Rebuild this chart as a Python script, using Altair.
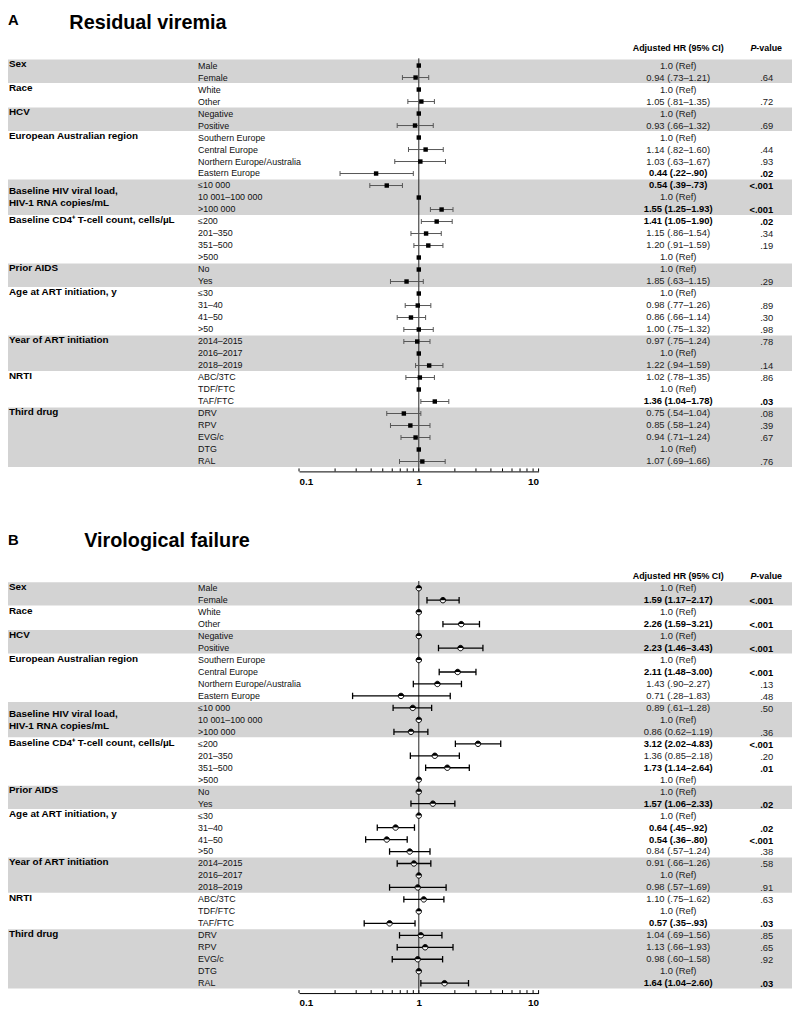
import altair as alt
import pandas as pd

FONT = "Liberation Sans"

# ---------------- shared row structure ----------------
sub_labels = ["Male", "Female", "White", "Other", "Negative", "Positive",
              "Southern Europe", "Central Europe", "Northern Europe/Australia", "Eastern Europe",
              "≤10 000", "10 001–100 000", ">100 000",
              "≤200", "201–350", "351–500", ">500",
              "No", "Yes",
              "≤30", "31–40", "41–50", ">50",
              "2014–2015", "2016–2017", "2018–2019",
              "ABC/3TC", "TDF/FTC", "TAF/FTC",
              "DRV", "RPV", "EVG/c", "DTG", "RAL"]

group_lines = [["Sex"], ["Race"], ["HCV"], ["European Australian region"],
               ["Baseline HIV viral load,", "HIV-1 RNA copies/mL"],
               ["Baseline CD4⁺  T-cell count, cells/µL"], ["Prior AIDS"],
               ["Age at ART initiation, y"], ["Year of ART initiation"], ["NRTI"], ["Third drug"]]
group_sizes = [2, 2, 2, 4, 3, 4, 2, 4, 3, 3, 5]

axis_ticks = [0.1, 0.2, 0.3, 0.4, 0.5, 0.6, 0.7, 0.8, 0.9, 1, 2, 3, 4, 5, 6, 7, 8, 9, 10]
axis_labels = [0.1, 1, 10]

# ---------------- Panel A: residual viremia ----------------
a_hr = [1, 0.94, 1, 1.05, 1, 0.93, 1, 1.14, 1.03, 0.44, 0.54, 1, 1.55, 1.41, 1.15, 1.20, 1,
        1, 0.79, 1, 0.98, 0.86, 1.00, 0.97, 1, 1.22, 1.02, 1, 1.36, 0.75, 0.85, 0.94, 1, 1.07]
a_lo = [None, 0.73, None, 0.81, None, 0.66, None, 0.82, 0.63, 0.22, 0.39, None, 1.25, 1.05, 0.86, 0.91, None,
        None, 0.58, None, 0.77, 0.66, 0.75, 0.75, None, 0.94, 0.78, None, 1.04, 0.54, 0.58, 0.71, None, 0.69]
a_hi = [None, 1.21, None, 1.35, None, 1.32, None, 1.60, 1.67, 0.90, 0.73, None, 1.93, 1.90, 1.54, 1.59, None,
        None, 1.09, None, 1.26, 1.14, 1.32, 1.24, None, 1.59, 1.35, None, 1.78, 1.04, 1.24, 1.24, None, 1.66]
a_text = ["1.0 (Ref)", "0.94 (.73–1.21)", "1.0 (Ref)", "1.05 (.81–1.35)", "1.0 (Ref)", "0.93 (.66–1.32)",
          "1.0 (Ref)", "1.14 (.82–1.60)", "1.03 (.63–1.67)", "0.44 (.22–.90)",
          "0.54 (.39–.73)", "1.0 (Ref)", "1.55 (1.25–1.93)",
          "1.41 (1.05–1.90)", "1.15 (.86–1.54)", "1.20 (.91–1.59)", "1.0 (Ref)",
          "1.0 (Ref)", "1.85 (.63–1.15)",
          "1.0 (Ref)", "0.98 (.77–1.26)", "0.86 (.66–1.14)", "1.00 (.75–1.32)",
          "0.97 (.75–1.24)", "1.0 (Ref)", "1.22 (.94–1.59)",
          "1.02 (.78–1.35)", "1.0 (Ref)", "1.36 (1.04–1.78)",
          "0.75 (.54–1.04)", "0.85 (.58–1.24)", "0.94 (.71–1.24)", "1.0 (Ref)", "1.07 (.69–1.66)"]
a_p = ["", ".64", "", ".72", "", ".69", "", ".44", ".93", ".02", "<.001", "", "<.001",
       ".02", ".34", ".19", "", "", ".29", "", ".89", ".30", ".98", ".78", "", ".14",
       ".86", "", ".03", ".08", ".39", ".67", "", ".76"]
a_bold = [9, 10, 12, 13, 28]

# ---------------- Panel B: virological failure ----------------
b_hr = [1, 1.59, 1, 2.26, 1, 2.23, 1, 2.11, 1.43, 0.71, 0.89, 1, 0.86, 3.12, 1.36, 1.73, 1,
        1, 1.31, 1, 0.64, 0.54, 0.84, 0.91, 1, 0.98, 1.10, 1, 0.57, 1.04, 1.13, 0.98, 1, 1.64]
b_lo = [None, 1.17, None, 1.59, None, 1.46, None, 1.48, 0.90, 0.28, 0.61, None, 0.62, 2.02, 0.85, 1.14, None,
        None, 0.86, None, 0.45, 0.36, 0.57, 0.66, None, 0.57, 0.75, None, 0.35, 0.69, 0.66, 0.60, None, 1.04]
b_hi = [None, 2.17, None, 3.21, None, 3.43, None, 3.00, 2.27, 1.83, 1.28, None, 1.19, 4.83, 2.18, 2.64, None,
        None, 2.00, None, 0.92, 0.80, 1.24, 1.26, None, 1.69, 1.62, None, 0.93, 1.56, 1.93, 1.58, None, 2.60]
b_text = ["1.0 (Ref)", "1.59 (1.17–2.17)", "1.0 (Ref)", "2.26 (1.59–3.21)", "1.0 (Ref)", "2.23 (1.46–3.43)",
          "1.0 (Ref)", "2.11 (1.48–3.00)", "1.43 (.90–2.27)", "0.71 (.28–1.83)",
          "0.89 (.61–1.28)", "1.0 (Ref)", "0.86 (0.62–1.19)",
          "3.12 (2.02–4.83)", "1.36 (0.85–2.18)", "1.73 (1.14–2.64)", "1.0 (Ref)",
          "1.0 (Ref)", "1.57 (1.06–2.33)",
          "1.0 (Ref)", "0.64 (.45–.92)", "0.54 (.36–.80)", "0.84 (.57–1.24)",
          "0.91 (.66–1.26)", "1.0 (Ref)", "0.98 (.57–1.69)",
          "1.10 (.75–1.62)", "1.0 (Ref)", "0.57 (.35–.93)",
          "1.04 (.69–1.56)", "1.13 (.66–1.93)", "0.98 (.60–1.58)", "1.0 (Ref)", "1.64 (1.04–2.60)"]
b_p = ["", "<.001", "", "<.001", "", "<.001", "", "<.001", ".13", ".48", ".50", "", ".36",
       "<.001", ".20", ".01", "", "", ".02", "", ".02", "<.001", ".38", ".58", "", ".91",
       ".63", "", ".03", ".85", ".65", ".92", "", ".03"]
b_bold = [1, 3, 5, 7, 13, 15, 18, 20, 21, 28, 33]

W = 792
N = len(sub_labels)

CIRCLE = "M-1,0A1,1 0 1,0 1,0A1,1 0 1,0 -1,0Z"
HALF_TOP = "M-1,0A1,1 0 0,1 1,0Z"
VBAR = "M0,-1L0,1"

XAXIS = alt.Axis(values=axis_labels, format="~g", ticks=False, tickSize=0,
                 labelPadding=5, labelFont=FONT, labelFontSize=10,
                 labelFontWeight="bold", labelColor="black",
                 domainColor="black", domainWidth=1, grid=False, title=None)


def make_panel(hr, lo, hi, texts, pvals, bold_idx, letter, title, H, row_range,
               header_y, letter_y, title_y, title_x, style):
    xs = alt.Scale(type="log", domain=[0.1, 10], range=[294, 536])
    ys = alt.Scale(domain=[0, N - 1], range=row_range, zero=False, nice=False)

    rows = pd.DataFrame({
        "row": list(range(N)), "label": sub_labels, "hr": hr, "lo": lo, "hi": hi,
        "txt": texts, "p": pvals,
        "bold": [i in bold_idx for i in range(N)],
    })
    ci = rows.dropna(subset=["lo"])
    caps = pd.concat([
        pd.DataFrame({"row": ci["row"], "v": ci["lo"]}),
        pd.DataFrame({"row": ci["row"], "v": ci["hi"]}),
    ])

    starts, acc = [], 0
    for s in group_sizes:
        starts.append(acc)
        acc += s
    bands = pd.DataFrame([
        {"y0": st - 0.5, "y1": st + sz - 1 + 0.45}
        for g, (st, sz) in enumerate(zip(starts, group_sizes)) if g % 2 == 0
    ])
    glab = []
    for st, lines in zip(starts, group_lines):
        off = 0.5 if len(lines) > 1 else -0.1
        for k, ln in enumerate(lines):
            glab.append({"pos": st + off + k, "g": ln})
    glab = pd.DataFrame(glab)

    Y = lambda f: alt.Y(f, scale=ys, axis=None)
    X = lambda f: alt.X(f, scale=xs, axis=XAXIS)

    band_layer = alt.Chart(bands).mark_rect(color="#d3d3d3").encode(
        x=alt.value(0), x2=alt.value(W), y=Y("y0:Q"), y2="y1:Q")

    tick_layer = alt.Chart(pd.DataFrame({"v": axis_ticks})).mark_rule(
        color="black", strokeWidth=1).encode(
        x=X("v:Q"), y=alt.value(H - 3), y2=alt.value(H))

    ref_line = alt.Chart(pd.DataFrame({"v": [1], "top": [-0.6]})).mark_rule(
        color="#222", strokeWidth=1).encode(
        x=X("v:Q"), y=Y("top:Q"), y2=alt.value(H))

    wcol = "#555" if style == "square" else "black"
    wwid = 1 if style == "square" else 1.3
    whisk = alt.Chart(ci).mark_rule(color=wcol, strokeWidth=wwid).encode(
        x=X("lo:Q"), x2="hi:Q", y=Y("row:Q"))
    cap_layer = alt.Chart(caps).mark_point(
        shape=VBAR, filled=False, color=wcol, strokeWidth=wwid,
        size=25 if style == "square" else 42, opacity=1).encode(
        x=X("v:Q"), y=Y("row:Q"))

    if style == "square":
        markers = [alt.Chart(rows).mark_point(shape="square", filled=True, color="black",
                                              size=20, opacity=1).encode(
            x=X("hr:Q"), y=Y("row:Q"))]
    else:
        markers = [
            alt.Chart(rows).mark_point(shape=CIRCLE, filled=True, fill="white", stroke="black",
                                       strokeWidth=1, size=30, opacity=1).encode(
                x=X("hr:Q"), y=Y("row:Q")),
            alt.Chart(rows).mark_point(shape=HALF_TOP, filled=True, color="black",
                                       size=30, opacity=1).encode(
                x=X("hr:Q"), y=Y("row:Q")),
        ]

    sub_layer = alt.Chart(rows).mark_text(align="left", baseline="middle", font=FONT,
                                          fontSize=9, color="#111").encode(
        x=alt.value(192), y=Y("row:Q"), text="label:N")
    grp_layer = alt.Chart(glab).mark_text(align="left", baseline="middle", font=FONT,
                                          fontSize=10, fontWeight="bold", color="black").encode(
        x=alt.value(1), y=Y("pos:Q"), text="g:N")

    hr_norm = alt.Chart(rows).transform_filter("!datum.bold").mark_text(
        align="center", baseline="middle", font=FONT, fontSize=9.5, color="#222").encode(
        x=alt.value(677), y=Y("row:Q"), text="txt:N")
    hr_bold = alt.Chart(rows).transform_filter("datum.bold").mark_text(
        align="center", baseline="middle", font=FONT, fontSize=9.5, fontWeight="bold",
        color="black").encode(x=alt.value(677), y=Y("row:Q"), text="txt:N")
    p_norm = alt.Chart(rows).transform_filter("!datum.bold").mark_text(
        align="right", baseline="middle", font=FONT, fontSize=9.5, color="#222", dy=1).encode(
        x=alt.value(773), y=Y("row:Q"), text="p:N")
    p_bold = alt.Chart(rows).transform_filter("datum.bold").mark_text(
        align="right", baseline="middle", font=FONT, fontSize=9.5, fontWeight="bold",
        color="black", dy=1).encode(x=alt.value(773), y=Y("row:Q"), text="p:N")

    one = pd.DataFrame({"t": [0]})
    hdr1 = alt.Chart(one).mark_text(text="Adjusted HR (95% CI)", align="center",
                                    baseline="middle", font=FONT, fontSize=9,
                                    fontWeight="bold", color="black").encode(
        x=alt.value(677), y=alt.value(header_y))
    hdr2 = alt.Chart(one).mark_text(text="P", align="right", baseline="middle", font=FONT,
                                    fontSize=9, fontWeight="bold", fontStyle="italic",
                                    color="black").encode(
        x=alt.value(756), y=alt.value(header_y))
    hdr3 = alt.Chart(one).mark_text(text="-value", align="left", baseline="middle", font=FONT,
                                    fontSize=9, fontWeight="bold", color="black").encode(
        x=alt.value(756), y=alt.value(header_y))
    let = alt.Chart(one).mark_text(text=letter, align="left", baseline="alphabetic", font=FONT,
                                   fontSize=15, fontWeight="bold", color="black").encode(
        x=alt.value(0), y=alt.value(letter_y))
    ttl = alt.Chart(one).mark_text(text=title, align="left", baseline="alphabetic", font=FONT,
                                   fontSize=20, fontWeight="bold", color="black").encode(
        x=alt.value(title_x), y=alt.value(title_y))

    return alt.layer(band_layer, tick_layer, ref_line, whisk, cap_layer, *markers,
                     sub_layer, grp_layer, hr_norm, hr_bold, p_norm, p_bold,
                     hdr1, hdr2, hdr3, let, ttl).properties(width=W, height=H)


panel_a = make_panel(a_hr, a_lo, a_hi, a_text, a_p, a_bold, "A", "Residual viremia",
                     462, [52, 452], 34, 11, 15, 62, "square")
panel_b = make_panel(b_hr, b_lo, b_hi, b_text, b_p, b_bold, "B", "Virological failure",
                     498, [89, 488], 77, 45, 47, 77, "circle")

chart = alt.vconcat(panel_a, panel_b, spacing=14).properties(
    padding=0, background="white"
).configure(font=FONT).configure_view(stroke=None)

chart.save("out.html", embed_options={"renderer": "svg", "actions": False})
